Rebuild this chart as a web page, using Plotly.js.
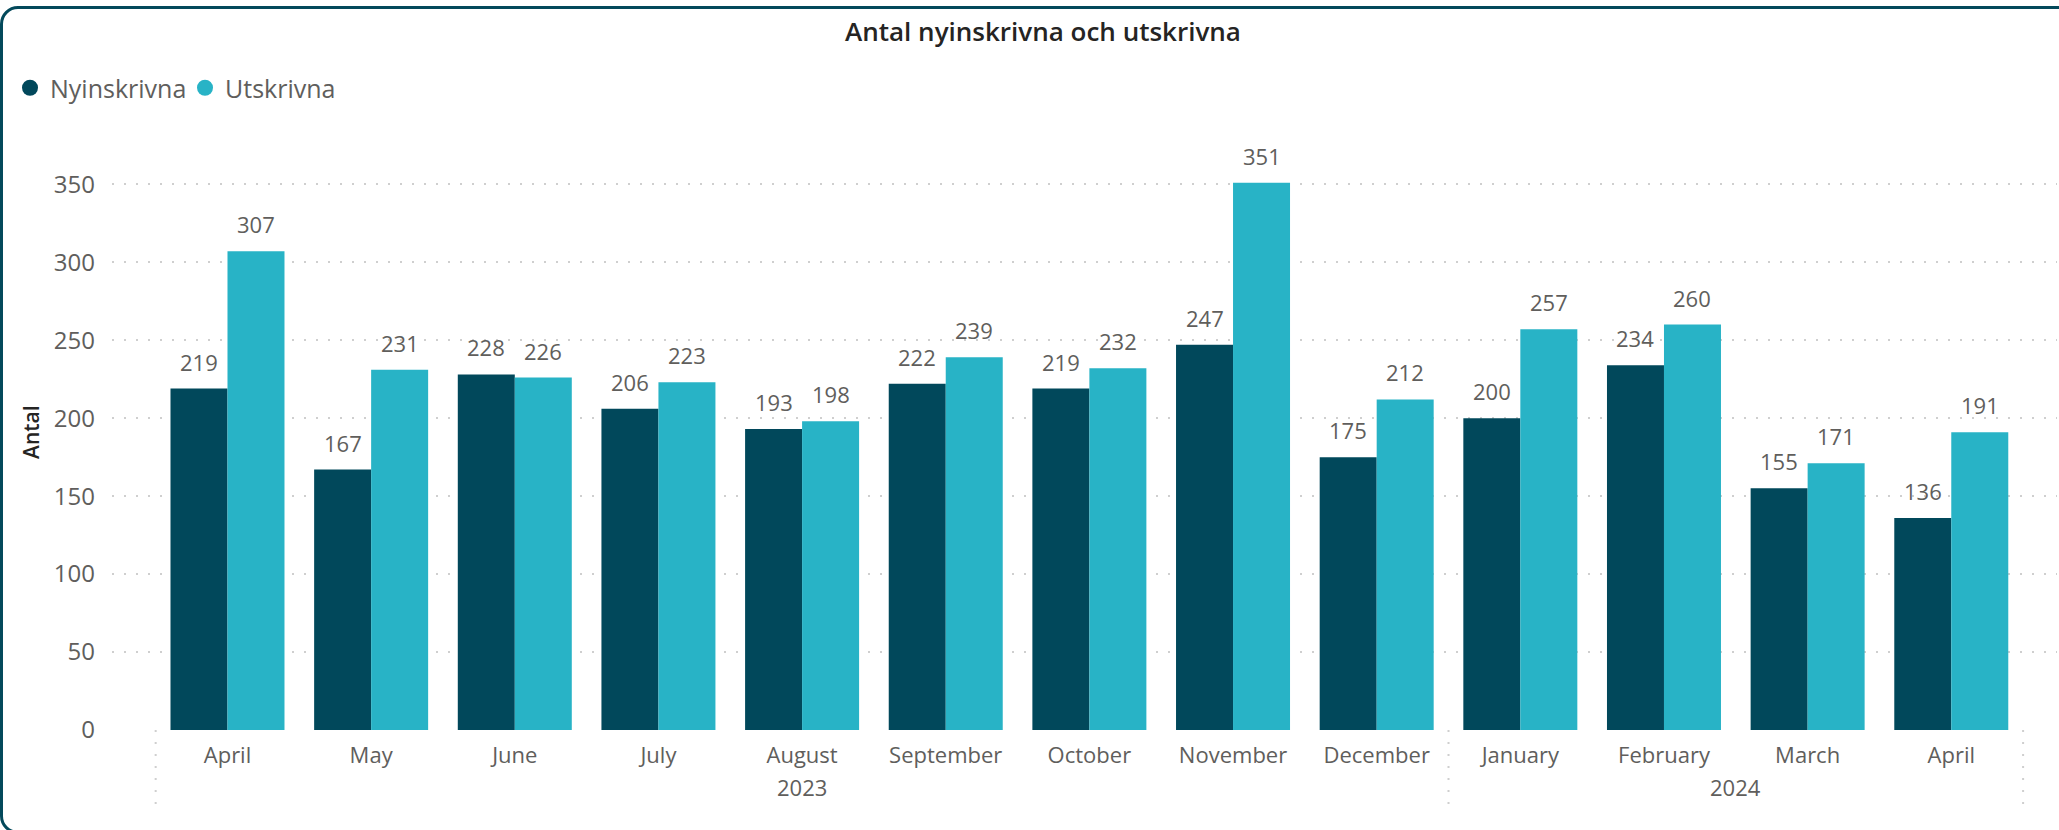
<!DOCTYPE html>
<html>
<head>
<meta charset="utf-8">
<script src="https://cdn.plot.ly/plotly-3.0.1.min.js"></script>
<style>
  html, body { margin: 0; padding: 0; background: #ffffff; overflow: hidden; width: 2059px; height: 830px; }
  #frame { position: absolute; left: 0px; top: 6px; width: 2200px; height: 828px; box-sizing: border-box;
           border: 3px solid #03495B; border-radius: 18px; }
  #chart { position: absolute; left: 0; top: 0; width: 2059px; height: 830px; }
</style>
</head>
<body>
<div id="frame"></div>
<div id="chart"></div>
<script>
// ---- data ----
const months = ["April", "May", "June", "July", "August", "September", "October", "November", "December", "January", "February", "March", "April"];
const years = ["2023", "2023", "2023", "2023", "2023", "2023", "2023", "2023", "2023", "2024", "2024", "2024", "2024"];
const nyinskrivna = [219, 167, 228, 206, 193, 222, 219, 247, 175, 200, 234, 155, 136];
const utskrivna = [307, 231, 226, 223, 198, 239, 232, 351, 212, 257, 260, 171, 191];
const seriesNames = ["Nyinskrivna", "Utskrivna"];
const chartTitle = "Antal nyinskrivna och utskrivna";
const yTitle = "Antal";
const yTicks = [0, 50, 100, 150, 200, 250, 300, 350];

// ---- styling ----
const DARK = "#01485B";
const LIGHT = "#28B3C6";
const TXT = "#605E5C";
const GRID = "#CFCFCF";
const FONT = "'Open Sans', 'Noto Sans', sans-serif";
const W = 2059, H = 830;
const M = { l: 112, r: 2, t: 130, b: 100 };
const xRange = [-0.804, 12.736];
const yRange = [0, 384.8];
const BARGAP = 0.2064;

const cats = months.map((m, i) => m + " " + years[i]);

const plotW = W - M.l - M.r;
const catPx = plotW / (xRange[1] - xRange[0]);
const halfBar = catPx * (1 - BARGAP) / 4;

const traces = [
  { type: "bar", name: seriesNames[0], x: cats, y: nyinskrivna, marker: { color: DARK }, showlegend: false, hoverinfo: "x+y+name" },
  { type: "bar", name: seriesNames[1], x: cats, y: utskrivna, marker: { color: LIGHT }, showlegend: false, hoverinfo: "x+y+name" },
  { type: "scatter", mode: "markers", name: seriesNames[0], x: [null], y: [null], marker: { color: DARK, size: 17, symbol: "circle" } },
  { type: "scatter", mode: "markers", name: seriesNames[1], x: [null], y: [null], marker: { color: LIGHT, size: 17, symbol: "circle" } }
];

const annotations = [];
[nyinskrivna, utskrivna].forEach((vals, s) => {
  vals.forEach((v, i) => {
    annotations.push({
      x: cats[i], y: v, xref: "x", yref: "y", text: String(v), showarrow: false,
      xshift: s === 0 ? -halfBar : halfBar, yshift: 27, yanchor: "middle", xanchor: "center",
      font: { family: FONT, size: 22, color: TXT }
    });
  });
});

// year group labels and dividers
const shapes = [];
const groups = [];
years.forEach((y, i) => {
  if (!groups.length || groups[groups.length - 1].year !== y) groups.push({ year: y, start: i, end: i });
  else groups[groups.length - 1].end = i;
});
const plotH = H - M.t - M.b;
groups.forEach((g, gi) => {
  annotations.push({
    x: (g.start + g.end) / 2, y: -57 / plotH, xref: "x", yref: "paper", text: g.year, showarrow: false,
    yanchor: "middle", xanchor: "center", font: { family: FONT, size: 22, color: TXT }
  });
  const edges = gi === 0 ? [g.start - 0.5, g.end + 0.5] : [g.end + 0.5];
  edges.forEach(e => shapes.push({
    type: "line", xref: "x", yref: "paper", x0: e, x1: e, y0: 0, y1: -80 / plotH,
    line: { color: GRID, width: 2, dash: "2px,10px" }
  }));
});

annotations.push({
  xref: "paper", yref: "paper", x: (31 - M.l) / plotW, y: (H - M.b - 432) / plotH, text: yTitle,
  textangle: -90, showarrow: false, xanchor: "center", yanchor: "middle",
  font: { family: FONT, size: 21, color: "#252423", weight: 600 }
});

const layout = {
  width: W, height: H,
  margin: M,
  paper_bgcolor: "rgba(0,0,0,0)",
  plot_bgcolor: "rgba(0,0,0,0)",
  barmode: "group",
  bargap: BARGAP,
  bargroupgap: 0,
  title: {
    text: chartTitle, xref: "container", yref: "container", x: 1043 / W, y: 1 - 32 / H,
    xanchor: "center", yanchor: "middle",
    font: { family: FONT, size: 26, color: "#252423", weight: 600 }
  },
  showlegend: true,
  legend: {
    orientation: "h", xref: "container", yref: "container", x: 10 / W, y: 1 - 88 / H,
    xanchor: "left", yanchor: "middle", font: { family: FONT, size: 25, color: TXT },
    bgcolor: "rgba(0,0,0,0)", itemclick: false, itemdoubleclick: false,
    entrywidth: 130, entrywidthmode: "pixels"
  },
  xaxis: {
    type: "category", range: xRange, tickvals: cats, ticktext: months,
    showgrid: false, zeroline: false, showline: false, ticks: "",
    tickfont: { family: FONT, size: 22, color: TXT }, ticklabelstandoff: 10, fixedrange: true
  },
  yaxis: {
    range: yRange, tickvals: yTicks, showgrid: true, gridcolor: GRID, gridwidth: 2, griddash: "2px,10px",
    zeroline: false, showline: false, ticks: "",
    tickfont: { family: FONT, size: 24, color: TXT }, ticklabelstandoff: 16, fixedrange: true
  },
  annotations: annotations,
  shapes: shapes
};

Plotly.newPlot("chart", traces, layout, { displayModeBar: false, staticPlot: false });
</script>
</body>
</html>
